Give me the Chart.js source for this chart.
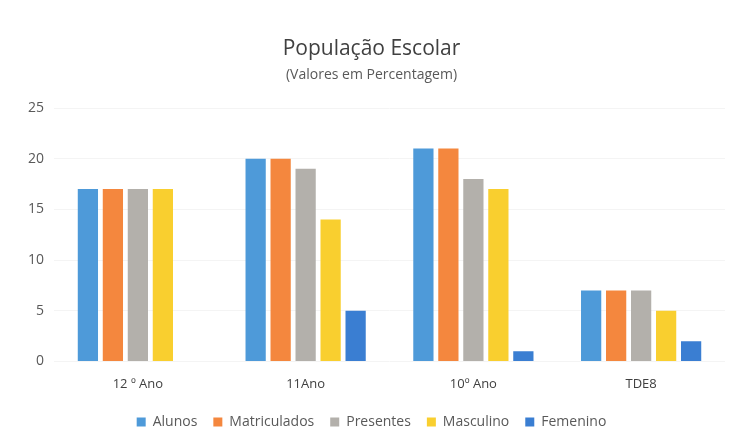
<!DOCTYPE html>
<html><head><meta charset="utf-8">
<script src="https://cdn.jsdelivr.net/npm/chart.js@4"></script>
<style>html,body{margin:0;padding:0;background:#fff}#wrap{width:734px;height:439px}</style>
</head><body><div id="wrap"><canvas id="c"></canvas></div>
<script>
const categories = ["12 º Ano", "11Ano", "10º Ano", "TDE8"];
const alunos = [17, 20, 21, 7];
const matriculados = [17, 20, 21, 7];
const presentes = [17, 19, 18, 7];
const masculino = [17, 14, 17, 5];
const femenino = [0, 5, 1, 2];
const seriesNames = ["Alunos", "Matriculados", "Presentes", "Masculino", "Femenino"];
const colors = ["#4E9AD9", "#F4873E", "#B3B0AB", "#F9CF2F", "#3A7ED2"];
const values = [alunos, matriculados, presentes, masculino, femenino];

new Chart(document.getElementById('c'), {
  type: 'bar',
  data: {
    labels: categories,
    datasets: seriesNames.map((n, i) => ({
      label: n, data: values[i], backgroundColor: colors[i],
      categoryPercentage: 0.745, barPercentage: 0.81
    }))
  },
  options: {
    responsive: true, maintainAspectRatio: false, animation: false,
    layout: { padding: { left: 18, right: 9, top: 32, bottom: 0 } },
    plugins: {
      title: { display: true, text: 'População Escolar', color: '#404040',
        font: { family: 'Open Sans', size: 21, weight: 'normal' }, padding: { top: 4, bottom: 0 } },
      subtitle: { display: true, text: '(Valores em Percentagem)', color: '#595959',
        font: { family: 'Open Sans', size: 14 }, padding: { top: 5, bottom: 25 } },
      legend: { position: 'bottom', labels: { boxWidth: 9, boxHeight: 9, color: '#595959',
        font: { family: 'Open Sans', size: 14 }, padding: 16 } },
      tooltip: { enabled: false }
    },
    scales: {
      x: { grid: { display: false }, border: { display: false },
        ticks: { color: '#404040', font: { family: 'Open Sans', size: 13 }, padding: 7 } },
      y: { min: 0, max: 25, ticks: { stepSize: 5, color: '#595959', font: { family: 'Open Sans', size: 14 }, padding: 10 },
        grid: { color: '#f4f4f4', drawTicks: false }, border: { display: false } }
    }
  }
});
</script></body></html>
